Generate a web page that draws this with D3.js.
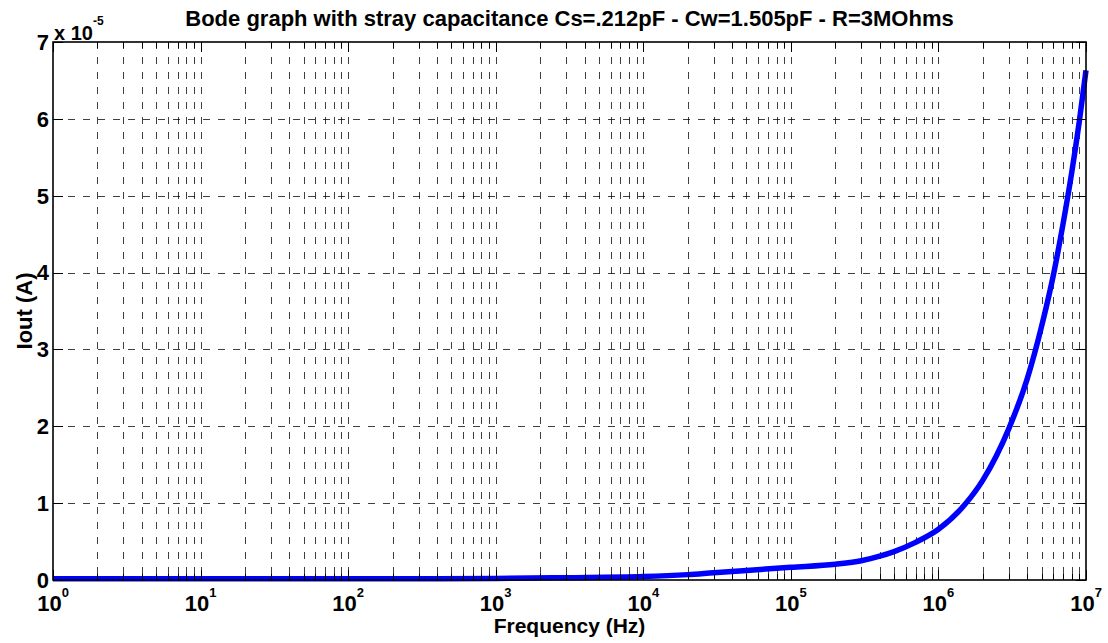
<!DOCTYPE html>
<html>
<head>
<meta charset="utf-8">
<script src="https://cdn.jsdelivr.net/npm/d3@7"></script>
<style>
  html, body { margin: 0; padding: 0; background: #fff; }
  svg { display: block; font-family: "Liberation Sans", Arial, sans-serif; font-weight: bold; }
</style>
</head>
<body>
<svg id="chart" width="1108" height="643"></svg>
<script>
// ---- data ----
const title = "Bode graph with stray capacitance Cs=.212pF - Cw=1.505pF - R=3MOhms";
const xLabel = "Frequency (Hz)";
const yLabel = "Iout (A)";
const freqHz = [1, 10, 100, 1000, 3000, 1e4, 2e4, 3e4, 5e4, 1e5, 2e5, 3e5, 4e5, 5e5, 7e5, 1e6, 1.5e6, 2e6, 3e6, 4e6, 5e6, 6e6, 7e6, 8e6, 9e6, 1e7];
const ioutE5 = [0.015, 0.015, 0.016, 0.02, 0.03, 0.045, 0.07, 0.095, 0.125, 0.165, 0.205, 0.25, 0.31, 0.37, 0.49, 0.66, 0.975, 1.30, 1.97, 2.62, 3.30, 3.96, 4.64, 5.30, 5.96, 6.63];
const xMajorExp = [0, 1, 2, 3, 4, 5, 6, 7];
const yTicks = [0, 1, 2, 3, 4, 5, 6, 7];
const yExponent = "-5";

// ---- layout ----
const svg = d3.select("#chart");
const L = 53, R = 1086, T = 42, B = 580;
const x = d3.scaleLog().domain([1, 1e7]).range([L, R]);
const y = d3.scaleLinear().domain([0, 7]).range([B, T]);

// minor positions
const minorX = [];
xMajorExp.slice(0, -1).forEach(e => { for (let k = 2; k <= 9; k++) minorX.push(k * Math.pow(10, e)); });
const majorX = xMajorExp.map(e => Math.pow(10, e));

// grid
const grid = svg.append("g").attr("stroke", "#000").attr("stroke-width", 0.75)
  .attr("stroke-dasharray", "7,8").attr("fill", "none");
grid.selectAll("line.v").data(majorX.concat(minorX).filter(v => v > 1 && v < 1e7)).join("line")
  .attr("x1", d => Math.round(x(d)) + 0.5).attr("x2", d => Math.round(x(d)) + 0.5)
  .attr("y1", T).attr("y2", B);
grid.selectAll("line.h").data(yTicks.filter(v => v > 0 && v < 7)).join("line")
  .attr("x1", L).attr("x2", R)
  .attr("y1", d => Math.round(y(d)) + 0.5).attr("y2", d => Math.round(y(d)) + 0.5);

// curve
const line = d3.line().x((d, i) => x(freqHz[i])).y(d => y(d)).curve(d3.curveMonotoneX);
svg.append("path").datum(ioutE5).attr("d", line)
  .attr("fill", "none").attr("stroke", "#0000ff").attr("stroke-width", 5.5);

// ticks (inward, all four sides)
const tk = svg.append("g").attr("stroke", "#000").attr("stroke-width", 1);
const majLen = 10, minLen = 6;
majorX.forEach(v => {
  const xx = Math.round(x(v)) + 0.5;
  tk.append("line").attr("x1", xx).attr("x2", xx).attr("y1", B).attr("y2", B - majLen);
  tk.append("line").attr("x1", xx).attr("x2", xx).attr("y1", T).attr("y2", T + majLen);
});
minorX.forEach(v => {
  const xx = Math.round(x(v)) + 0.5;
  tk.append("line").attr("x1", xx).attr("x2", xx).attr("y1", B).attr("y2", B - minLen);
  tk.append("line").attr("x1", xx).attr("x2", xx).attr("y1", T).attr("y2", T + minLen);
});
yTicks.forEach(v => {
  const yy = Math.round(y(v)) + 0.5;
  tk.append("line").attr("x1", L).attr("x2", L + majLen).attr("y1", yy).attr("y2", yy);
  tk.append("line").attr("x1", R).attr("x2", R - majLen).attr("y1", yy).attr("y2", yy);
});

// box
svg.append("rect").attr("x", L).attr("y", T).attr("width", R - L).attr("height", B - T)
  .attr("fill", "none").attr("stroke", "#000").attr("stroke-width", 1.6);

// x tick labels
xMajorExp.forEach(e => {
  const t = svg.append("text").attr("x", x(Math.pow(10, e))).attr("y", 611)
    .attr("text-anchor", "middle").attr("font-size", 22).attr("fill", "#000");
  t.append("tspan").text("10");
  t.append("tspan").attr("font-size", 13).attr("dy", -14).text(e);
});

// y tick labels
yTicks.forEach(v => {
  svg.append("text").attr("x", 49).attr("y", y(v)).attr("dy", "0.36em")
    .attr("text-anchor", "end").attr("font-size", 22).attr("fill", "#000").text(v);
});

// y exponent
const ex = svg.append("text").attr("x", 54).attr("y", 40).attr("font-size", 20).attr("fill", "#000");
ex.append("tspan").text("x 10");
ex.append("tspan").attr("font-size", 12).attr("dy", -15).text(yExponent);

// title & labels
svg.append("text").attr("x", (L + R) / 2).attr("y", 26).attr("text-anchor", "middle")
  .attr("font-size", 22).attr("fill", "#000").text(title);
svg.append("text").attr("x", (L + R) / 2).attr("y", 633).attr("text-anchor", "middle")
  .attr("font-size", 21).attr("fill", "#000").text(xLabel);
svg.append("text").attr("transform", `translate(32,${(T + B) / 2}) rotate(-90)`)
  .attr("text-anchor", "middle").attr("font-size", 22).attr("fill", "#000").text(yLabel);
</script>
</body>
</html>
